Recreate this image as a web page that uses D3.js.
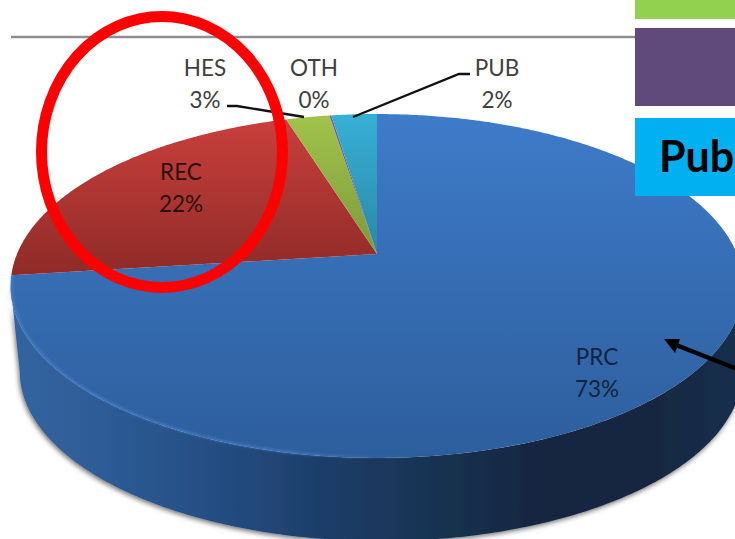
<!DOCTYPE html>
<html><head><meta charset="utf-8">
<script src="https://cdn.jsdelivr.net/npm/d3@7"></script>
<style>html,body{margin:0;padding:0;background:#fff;overflow:hidden}svg{display:block}text{font-family:Lato,"Open Sans",sans-serif}</style>
</head><body><svg id="c" width="735" height="539"></svg>
<script>
const categories=["PRC","REC","HES","OTH","PUB"];
const values=[73.0,22.2,2.3,0.1,2.4];
const percentLabels=["73%","22%","3%","0%","2%"];
const labelAnchors=[[597,364],[181,179],[205,75],[314,75],[497,75]];
const sliceTop=["#3e7bc9","#cb403c","#a2c44b","#7d60a0","#37b0d5"];
const sliceBottom=["#2d5e9c","#8f2b28","#7c9a3b","#5c4678","#2a88a6"];
const sliceSpan=[[114,458],[114,273],[114,254],[114,254],[114,254]];
const leaders=[[[227,106],[237,106],[304,117]],[[470,74],[459,74],[353,117]]];

const svg=d3.select("#c"),defs=svg.append("defs");
// perspective projection of the pie's disc
const apex={x:377,y:254},A=360,B=166,K=-0.186;
const proj=(a,r=1,dx=0,dy=0,s=1)=>{const u=r*Math.sin(a),v=-r*Math.cos(a),w=1+K*v;
  return [apex.x+dx+s*A*u/w,apex.y+dy+s*B*v/w];};
const line=d3.line();
const arcs=d3.pie().sort(null).value(d=>d)(values);
const samples=(a0,a1,f)=>{const n=Math.max(2,Math.ceil(Math.abs(a1-a0)/0.01));return d3.range(n+1).map(i=>f(a0+(a1-a0)*i/n));};

// gradients
arcs.forEach((d,i)=>{const g=defs.append("linearGradient").attr("id","s"+i).attr("gradientUnits","userSpaceOnUse")
  .attr("x1",0).attr("x2",0).attr("y1",sliceSpan[i][0]).attr("y2",sliceSpan[i][1]);
  g.append("stop").attr("offset",0).attr("stop-color",sliceTop[i]);
  g.append("stop").attr("offset",1).attr("stop-color",sliceBottom[i]);});
const wg=defs.append("linearGradient").attr("id","wall").attr("gradientUnits","userSpaceOnUse").attr("x1",10).attr("x2",735).attr("y1",0).attr("y2",0);
[[0,"#34659f"],[.12,"#2e5c97"],[.3,"#244c80"],[.45,"#1c3c66"],[.6,"#18324f"],[.74,"#12253f"],[.88,"#14273f"],[1,"#192f4c"]]
 .forEach(s=>wg.append("stop").attr("offset",s[0]).attr("stop-color",s[1]));
const rg=defs.append("linearGradient").attr("id","rim").attr("gradientUnits","userSpaceOnUse").attr("x1",10).attr("x2",420).attr("y1",0).attr("y2",0);
[[0,"#4d8cd6",.55],[.7,"#4b86cf",.7],[1,"#3a70b4",0]].forEach(s=>rg.append("stop").attr("offset",s[0]).attr("stop-color",s[1]).attr("stop-opacity",s[2]));
const f=defs.append("filter").attr("id","shadow").attr("x","-5%").attr("y","-5%").attr("width","110%").attr("height","115%");
f.append("feDropShadow").attr("dx",-1).attr("dy",2).attr("stdDeviation",2.5).attr("flood-color","#000").attr("flood-opacity",.55);
const bl=defs.append("filter").attr("id","soft");
bl.append("feGaussianBlur").attr("stdDeviation",.9);

// side wall: from the widest point of the top rim round the front, back along the lower rim
const widestR=Math.PI-1.384,widestL=Math.PI+1.384;
const topFront=samples(widestR,widestL,a=>proj(a));
const botFront=samples(widestL,widestR,a=>proj(a,1,4,86,0.986));
svg.append("path").attr("d",line(topFront.concat(botFront))+"Z").attr("fill","url(#wall)").attr("filter","url(#shadow)");

// top slices
svg.append("g").selectAll("path").data(arcs).join("path")
  .attr("d",d=>line([proj(0,0)].concat(samples(d.startAngle,d.endAngle,a=>proj(a))))+"Z")
  .attr("fill",(d,i)=>"url(#s"+i+")");

// rim highlight
svg.append("path").attr("d",line(samples(arcs[0].endAngle,Math.PI/2,a=>proj(a,0.997))))
  .attr("fill","none").attr("stroke","url(#rim)").attr("stroke-width",2.2).attr("filter","url(#soft)");

// rule and slide blocks
svg.append("line").attr("x1",11).attr("x2",635).attr("y1",37).attr("y2",37).attr("stroke","#8f8f8f").attr("stroke-width",2.5);
const blocks=[[0,19,"#92d050"],[28,78,"#604a7b"],[118,78,"#00b0f0"]];
svg.append("g").selectAll("rect").data(blocks).join("rect")
  .attr("x",635).attr("width",100).attr("y",d=>d[0]).attr("height",d=>d[1]).attr("fill",d=>d[2]);
svg.append("text").attr("x",659).attr("y",172).attr("font-size",43).attr("font-weight",700).attr("fill","#000").text("Pub");

// leaders
svg.append("g").selectAll("path").data(leaders).join("path").attr("d",d=>line(d))
  .attr("fill","none").attr("stroke","#111").attr("stroke-width",2.4);

// data labels
const lab=svg.append("g").attr("text-anchor","middle").attr("font-size",22.5);
categories.forEach((c,i)=>{const col=i<2?(i==0?"#12233f":"#2b0f0f"):"#404040";
  lab.append("text").attr("x",labelAnchors[i][0]).attr("y",labelAnchors[i][1]+1).attr("fill",col).text(c);
  lab.append("text").attr("x",labelAnchors[i][0]).attr("y",labelAnchors[i][1]+33).attr("fill",col).text(percentLabels[i]);});

// annotations
svg.append("ellipse").attr("cx",162).attr("cy",152).attr("rx",120.5).attr("ry",135.5).attr("fill","none").attr("stroke","#ff0000").attr("stroke-width",11);
svg.append("line").attr("x1",740).attr("y1",370).attr("x2",676).attr("y2",345).attr("stroke","#000").attr("stroke-width",4.5);
svg.append("path").attr("d",line([[664,339],[680,339],[675,353]])+"Z").attr("fill","#000");
</script></body></html>
